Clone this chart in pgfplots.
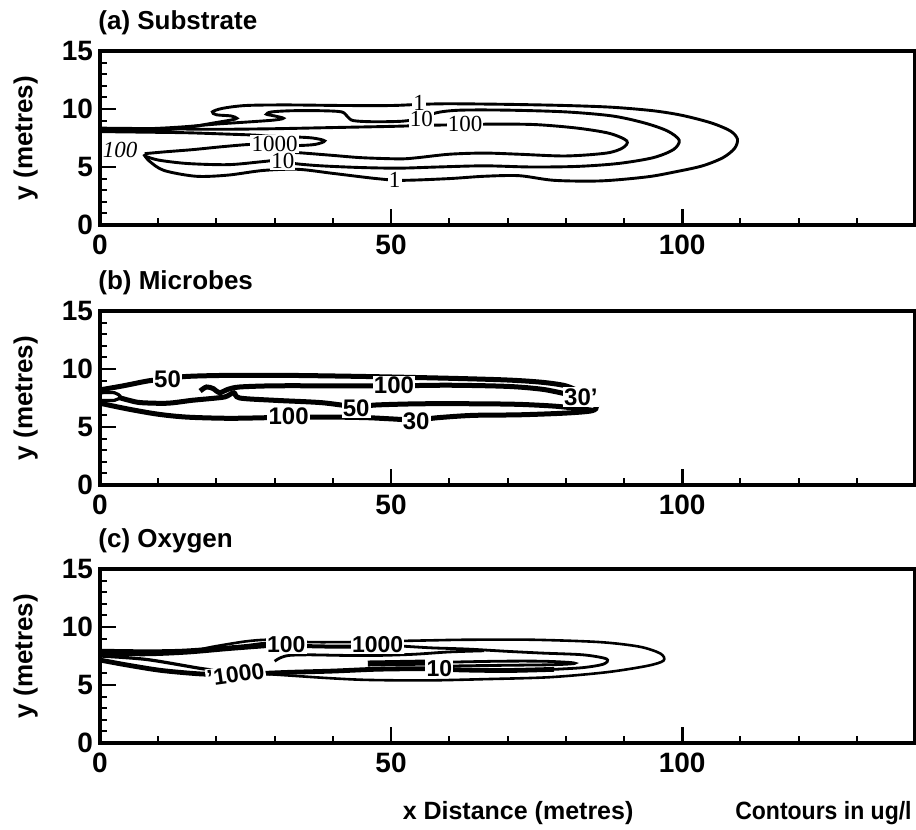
\documentclass[border=0pt]{standalone}
\usepackage{pgfplots}
\pgfplotsset{compat=1.18}
\usepackage{fontspec}
\setmainfont{Liberation Sans}
\newfontfamily\serifl{Liberation Serif}
\newcommand{\fs}[1]{\fontsize{#1}{#1}\selectfont}
\tikzset{lab/.style={fill=white, inner sep=0.6pt}}
\pgfplotsset{
  panel/.style={
    width=407.5pt, height=87pt, scale only axis,
    xmin=0, xmax=140, ymin=0, ymax=15,
    xtick={0,50,100}, minor xtick={10,20,30,40,60,70,80,90,110,120,130},
    ytick={0,5,10,15}, minor ytick={1,2,3,4,6,7,8,9,11,12,13,14},
    tick pos=left, tick align=inside,
    major tick length=8pt, minor tick length=3.5pt,
    axis line style={line width=2pt},
    tick style={black, line width=1.4pt},
    minor tick style={line width=1pt},
    tick label style={font=\bfseries\fs{14}},
    xticklabel style={yshift=-1.5pt},
    /pgf/number format/assume math mode=true,
    ylabel={y (metres)},
    ylabel style={at={(axis description cs:-0.076,0.5)}, anchor=south, inner sep=0pt, font=\bfseries\fs{13}},
    title style={at={(axis description cs:0,1)}, anchor=base west, xshift=-1pt, yshift=4.5pt, inner sep=0pt, font=\bfseries\fs{13}},
    clip=false,
  },
  ca/.style={black, line width=1.45pt, smooth, tension=0.5},
  cb/.style={black, line width=2.5pt, smooth, tension=0.5},
}
\begin{document}
\begin{tikzpicture}
\path[use as bounding box] (0,0) rectangle (458pt,415pt);

% ---------------- (a) Substrate ----------------
\begin{axis}[panel, at={(50pt,302.5pt)}, anchor=south west, title={(a) Substrate}]
\addplot[ca] coordinates {(0,8.2) (6,8.15) (11,8.2) (15,8.4) (19,8.75) (22.5,9.05) (23.5,9.2) (22.5,9.4) (20,9.5) (19.3,9.75) (21,10.05) (25,10.3) (32,10.35) (42,10.3) (50,10.3) (55,10.4) (60,10.45) (70,10.4) (80,10.3) (88,10.15) (95,9.85) (100,9.45) (105,8.8) (108.3,8.1) (109.5,7.4) (109,6.6) (107,5.8) (103.5,5.1) (99,4.6) (94,4.15) (86,3.8) (78,3.85) (72,4.25) (66,4.2) (60,4.0) (52,3.85) (47.5,4.0) (40,4.45) (34,4.8) (28,4.7) (22,4.3) (16.5,4.2) (11,4.7) (8.5,5.5) (7.5,6.1)};
\addplot[ca] coordinates {(0,8.3) (8,8.3) (14,8.45) (20,8.7) (26,8.9) (30,9.05) (31.5,9.2) (30,9.4) (28.6,9.55) (29.5,9.75) (33,9.85) (38,9.85) (41.5,9.75) (42.5,9.35) (43.5,9.0) (47,8.9) (52,8.95) (55,9.2) (58,9.7) (62,9.9) (70,9.9) (80,9.75) (88,9.4) (93.5,8.8) (97.5,8.1) (99.5,7.3) (98.5,6.5) (95,5.8) (89,5.3) (82,5.05) (74,5.0) (66,5.1) (58,5.0) (51.5,4.9) (45,4.95) (38,5.1) (33.4,5.3) (31,5.6) (27.7,5.45) (22,5.2) (15,5.3) (10,5.6) (7.7,5.95)};
\addplot[ca] coordinates {(0,8.35) (10,8.3) (20,8.25) (30,8.3) (40,8.4) (50,8.5) (57,8.6) (62.7,8.65) (68,8.7) (75,8.65) (82,8.35) (87.5,7.9) (90.5,7.25) (89.8,6.65) (87,6.2) (80,5.95) (72,6.1) (66,6.2) (60,6.1) (54.5,5.8) (51.5,5.7) (45,5.8) (40,6.0) (35,6.2) (32,6.3)};
\addplot[ca] coordinates {(0,8.05) (8,8.0) (15,7.95) (21,7.85) (26.5,7.75) (29,7.65) (33,7.6) (36.5,7.5) (38.6,7.25) (37,6.95) (34,6.85) (30,6.9) (26,6.95) (21,6.75) (16,6.5) (11,6.3) (7.7,6.15)};
\node[lab, font=\serifl\fs{11.5}] at (axis cs:54.8,10.5) {1};
\node[lab, font=\serifl\fs{11.5}] at (axis cs:55.2,9.15) {10};
\node[lab, font=\serifl\fs{11.5}] at (axis cs:62.7,8.7) {100};
\node[lab, font=\serifl\fs{11.5}] at (axis cs:50.6,3.85) {1};
\node[lab, font=\serifl\fs{11.5}] at (axis cs:30,7.0) {1000};
\node[lab, font=\serifl\fs{11.5}] at (axis cs:31.4,5.55) {10};
\node[lab, font=\serifl\itshape\fs{11.5}, anchor=west] at (axis cs:0.2,6.45) {100};
\end{axis}

% ---------------- (b) Microbes ----------------
\begin{axis}[panel, at={(50pt,172.5pt)}, anchor=south west, title={(b) Microbes}]
\addplot[cb] coordinates {(0,8.2) (4,8.55) (8.6,9.0) (11.6,9.1) (14.6,9.35) (22,9.45) (32,9.45) (46,9.35) (60,9.2) (70,9.05) (76,8.85) (80,8.55) (82.5,8.0) (84.5,7.4) (85.3,6.8) (84.5,6.4) (80,6.2) (72,6.05) (64,6.0) (58,5.8) (54.3,5.6) (50,5.7) (46,5.8) (40.5,5.85) (36,5.85) (32.4,5.85) (28.5,5.8) (22,5.75) (15,5.85) (10,6.1) (4.8,6.55) (0,7.05)};
\addplot[cb] coordinates {(17.2,8.1) (18.3,8.45) (19.5,8.3) (20.5,7.95) (22,8.25) (24,8.45) (30,8.55) (40,8.55) (50.5,8.55) (60,8.6) (70,8.5) (76,8.25) (80,7.85)};
\addplot[cb] coordinates {(3.2,7.55) (5,7.3) (7,7.1) (11.6,7.05) (15.8,7.3) (19,7.45) (21.5,7.6) (23,7.95) (24,7.5) (30,7.3) (38,7.1) (44,6.75) (47.5,6.9) (55,7.0) (65,7.0) (72,6.95) (78,6.8) (82,6.6) (84.5,6.45)};
\addplot[black, line width=1.6pt, smooth, tension=0.5] coordinates {(0,7.95) (2.5,7.95) (3.5,7.6) (2.5,7.3) (0,7.3)};
\node[lab, font=\bfseries\fs{12}] at (axis cs:11.6,9.1) {50};
\node[lab, font=\bfseries\fs{12}] at (axis cs:50.5,8.6) {100};
\node[lab, font=\bfseries\fs{12}] at (axis cs:82.6,7.6) {30'};
\node[lab, font=\bfseries\fs{12}] at (axis cs:32.4,5.9) {100};
\node[lab, font=\bfseries\fs{12}] at (axis cs:44,6.6) {50};
\node[lab, font=\bfseries\fs{12}] at (axis cs:54.3,5.5) {30};
\end{axis}

% ---------------- (c) Oxygen ----------------
\begin{axis}[panel, at={(50pt,43.5pt)}, anchor=south west, title={(c) Oxygen},
  xlabel={x Distance (metres)},
  xlabel style={at={(axis description cs:0.513,-0.4425)}, anchor=base, inner sep=0pt, font=\bfseries\fs{12.5}}]
\addplot[black, line width=1.3pt, smooth, tension=0.5] coordinates {(0,7.8) (6,7.75) (12,7.75) (16,7.95) (19.4,8.3) (24.9,8.75) (28.5,8.9) (32,8.85) (35.8,8.7) (42.6,8.7) (47.7,8.75) (52,8.8) (57,8.85) (63,8.9) (74.3,8.9) (85.8,8.7) (92.7,8.3) (96.3,7.7) (96.8,7.1) (94,6.65) (87,6.1) (77.2,5.67) (65.8,5.5) (57.2,5.4) (51.5,5.4) (45,5.45) (39,5.6) (33,5.8) (28.5,5.95)};
\addplot[black, line width=2pt, smooth, tension=0.5] coordinates {(0,7.95) (8,7.9) (14,7.95) (20,8.15) (25,8.35) (28.5,8.55) (32,8.5) (35.8,8.35) (42.6,8.3) (47.7,8.35) (52,8.35)};
\addplot[black, line width=1.4pt, smooth, tension=0.5] coordinates {(52,8.35) (57,8.2) (63,8.1) (70,7.9) (76,7.75) (83,7.6) (87,7.25) (86.5,6.8) (83,6.5) (78,6.35)};
\addplot[black, line width=2.4pt, smooth, tension=0.5] coordinates {(78,6.35) (70,6.25) (62,6.3) (58.2,6.4) (53,6.4) (47,6.35) (40,6.2) (33,6.1) (28,6.0) (23,5.9) (17.4,5.95) (10.6,6.25) (4.9,6.7) (0,7.15)};
\addplot[black, line width=1.6pt, smooth, tension=0.5] coordinates {(0,7.5) (8,7.2) (17,6.45) (20,6.25)};
\addplot[black, line width=1.4pt, smooth, tension=0.5] coordinates {(0,7.65) (8,7.6) (15,7.75) (22,8.05) (28.5,8.3)};
\addplot[black, line width=1.4pt, smooth, tension=0.5] coordinates {(30,7.05) (31,7.35) (32.5,7.55) (36,7.6) (42,7.55) (48,7.55) (54,7.65) (60,7.85) (66,7.95)};
\addplot[black, line width=3pt, smooth, tension=0.5] coordinates {(46,6.85) (52,6.9) (58,6.95)};
\addplot[black, line width=1.4pt, smooth, tension=0.5] coordinates {(58,6.95) (68.6,7.05) (76,7.05) (80.5,6.95) (81.5,6.85) (78,6.75) (70,6.7) (62,6.65) (58.5,6.6)};
\node[lab, font=\bfseries\fs{11.5}] at (axis cs:32,8.5) {100};
\node[lab, font=\bfseries\fs{11.5}] at (axis cs:47.7,8.5) {1000};
\node[lab, font=\bfseries\fs{11.5}] at (axis cs:58.3,6.45) {10};
\node[lab, font=\bfseries\fs{11.5}, rotate=8] at (axis cs:23.3,5.9) {{'}1000};
\node[anchor=base east, inner sep=0pt, font=\bfseries\fs{12.5}, xscale=0.92] at (axis description cs:0.9963,-0.4425) {Contours in ug/l};
\end{axis}
\end{tikzpicture}
\end{document}
